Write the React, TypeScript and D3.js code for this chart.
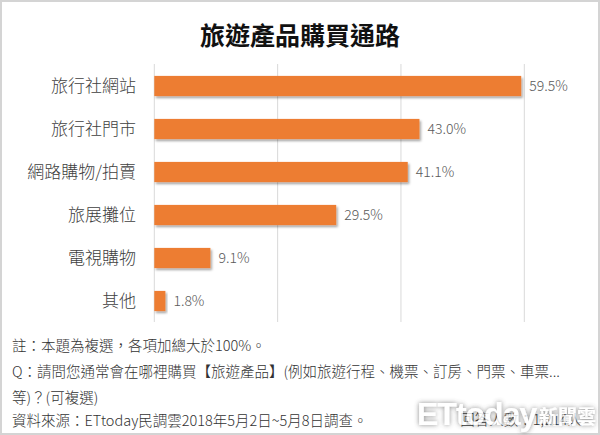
import React, { useEffect } from "react";
import * as d3 from "d3";

const categories: string[] = ["旅行社網站", "旅行社門市", "網路購物/拍賣", "旅展攤位", "電視購物", "其他"];
const values: number[] = [59.5, 43.0, 41.1, 29.5, 9.1, 1.8];
const gridTicks: number[] = [0, 20, 40, 60];
const title = "旅遊產品購買通路";
const notes: string[] = [
  "註：本題為複選，各項加總大於100%。",
  "Q：請問您通常會在哪裡購買【旅遊產品】(例如旅遊行程、機票、訂房、門票、車票...",
  "等)？(可複選)",
  "資料來源：ETtoday民調雲2018年5月2日~5月8日調查。",
];
const sampleNote = "回答人數：1,214人";

const W = 600;
const H = 435;
const FONT = "'Noto Sans CJK TC', 'Noto Sans', sans-serif";

export default function App() {
  useEffect(() => {
    document.body.style.margin = "0";
  }, []);

  const x = d3.scaleLinear().domain([0, 60]).range([154.3, 524.3]);
  const y = d3.scaleBand<string>().domain(categories).range([64.5, 322.5]).paddingInner(0.53).paddingOuter(0.265);

  return (
    <svg width={W} height={H} style={{ position: "absolute", left: 0, top: 0, background: "#fff" }} fontFamily={FONT}>
      <defs>
        <filter id="shadow" x="-10%" y="-30%" width="130%" height="180%">
          <feDropShadow dx="1.5" dy="2" stdDeviation="1.2" floodColor="#000" floodOpacity="0.35" />
        </filter>
        <filter id="wm" x="-10%" y="-40%" width="120%" height="180%">
          <feGaussianBlur in="SourceAlpha" stdDeviation="2.5" result="b" />
          <feFlood floodColor="#444" floodOpacity="0.8" />
          <feComposite in2="b" operator="in" result="s" />
          <feMerge>
            <feMergeNode in="s" />
            <feMergeNode in="SourceGraphic" />
          </feMerge>
        </filter>
      </defs>
      <rect x={1} y={1} width={W - 2} height={H - 2} fill="#fff" stroke="#d4d4d4" strokeWidth={2} />
      <text x={300} y={45} textAnchor="middle" fontSize={25} fontWeight={700} fill="#111">
        {title}
      </text>
      {gridTicks.map((t) => (
        <line key={t} x1={x(t)} x2={x(t)} y1={64} y2={322} stroke="#d9d9d9" strokeWidth={1} />
      ))}
      {categories.map((c, i) => {
        const yy = y(c)!;
        const bh = y.bandwidth();
        return (
          <g key={c}>
            <rect x={x(0)} y={yy} width={x(values[i]) - x(0)} height={bh} fill="#ED7D31" filter="url(#shadow)" />
            <text x={136} y={yy + bh / 2} dy="0.36em" textAnchor="end" fontSize={17} fontWeight={300} fill="#404040">
              {c}
            </text>
            <text x={x(values[i]) + 8} y={yy + bh / 2} dy="0.36em" fontSize={14} fontWeight={300} fill="#595959">
              {values[i].toFixed(1) + "%"}
            </text>
          </g>
        );
      })}
      {notes.map((n, i) => (
        <text key={i} x={12} y={351 + i * 26 - (i === 3 ? 3 : 0)} fontSize={14.5} fontWeight={300} fill="#333">
          {n}
        </text>
      ))}
      <text x={582} y={425} textAnchor="end" fontSize={14.5} fontWeight={300} fill="#333">
        {sampleNote}
      </text>
      <g filter="url(#wm)" opacity={0.8}>
        <text x={417} y={425} fontSize={32} fontWeight={700} fill="#fff" fontFamily="'Liberation Sans', Arial, sans-serif" letterSpacing={-1}>
          ETtoday
        </text>
        <text x={539} y={424} fontSize={19} fontWeight={700} fill="#fff">
          新聞雲
        </text>
      </g>
    </svg>
  );
}
